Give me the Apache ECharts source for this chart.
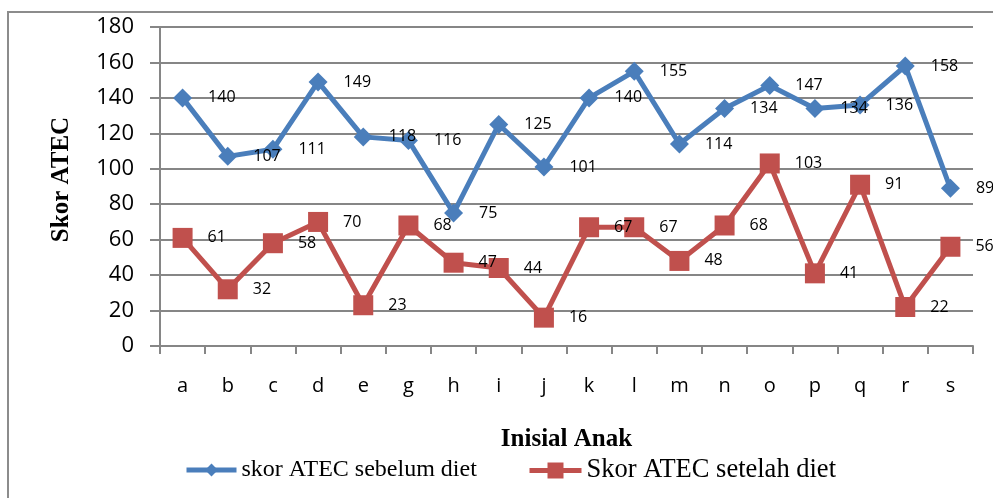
<!DOCTYPE html>
<html>
<head>
<meta charset="utf-8">
<script src="https://cdn.jsdelivr.net/npm/echarts@6/dist/echarts.min.js"></script>
<style>
html,body{margin:0;padding:0;background:#fff;}
#chart{width:993px;height:498px;}
</style>
</head>
<body>
<div id="chart"></div>
<script>
const categories = ['a','b','c','d','e','g','h','i','j','k','l','m','n','o','p','q','r','s'];
const sebelum = [140,107,111,149,118,116,75,125,101,140,155,114,134,147,134,136,158,89];
const setelah = [61,32,58,70,23,68,47,44,16,67,67,48,68,103,41,91,22,56];
const yTicks = {min:0, max:180, interval:20};
const seriesNames = ['skor ATEC sebelum diet','Skor ATEC setelah diet'];

const chart = echarts.init(document.getElementById('chart'), null, {renderer:'canvas'});
const labelFont = {fontFamily:'Open Sans', fontSize:16, color:'#000'};
chart.setOption({
  animation:false,
  backgroundColor:'#fff',
  graphic:[{type:'rect', shape:{x:8,y:12,width:1000,height:500}, style:{fill:'none', stroke:'#8c8c8c', lineWidth:2}, silent:true}],
  grid:{left:160, right:20, top:27, bottom:152, containLabel:false},
  legend:[
    {data:[seriesNames[0]], left:179, top:453, itemWidth:50, itemHeight:16, itemGap:0,
     lineStyle:{width:5}, 
     textStyle:{fontFamily:'Liberation Serif', fontSize:24, color:'#000'}},
    {data:[seriesNames[1]], left:522, top:452, itemWidth:52, itemHeight:20, itemGap:0,
     lineStyle:{width:5},
     textStyle:{fontFamily:'Liberation Serif', fontSize:26.5, color:'#000'}}
  ],
  xAxis:{
    type:'category', data:categories, boundaryGap:true,
    name:'Inisial Anak', nameLocation:'middle', nameGap:81,
    nameTextStyle:{fontFamily:'Liberation Serif', fontWeight:'bold', fontSize:25, color:'#000'},
    axisLine:{lineStyle:{color:'#868686', width:2}},
    axisTick:{show:true, alignWithLabel:false, length:8, lineStyle:{color:'#868686', width:2}},
    axisLabel:{fontFamily:'Open Sans', fontSize:20, color:'#000', margin:30},
    splitLine:{show:false}
  },
  yAxis:{
    type:'value', min:yTicks.min, max:yTicks.max, interval:yTicks.interval,
    name:'Skor ATEC', nameLocation:'middle', nameGap:86, nameRotate:90,
    nameTextStyle:{fontFamily:'Liberation Serif', fontWeight:'bold', fontSize:25, color:'#000', padding:[0,0,0,14]},
    axisLine:{show:true, lineStyle:{color:'#868686', width:2}},
    axisTick:{show:true, length:10, lineStyle:{color:'#868686', width:2}},
    axisLabel:{fontFamily:'Open Sans', fontSize:22, color:'#000', margin:26},
    splitLine:{show:true, lineStyle:{color:'#868686', width:2}}
  },
  series:[
    {name:seriesNames[0], type:'line', data:sebelum, symbol:'diamond', symbolSize:19,
     lineStyle:{color:'#4A7EBB', width:5}, itemStyle:{color:'#4A7EBB'},
     label:{show:true, position:'right', distance:16, ...labelFont}},
    {name:seriesNames[1], type:'line', data:setelah, symbol:'rect', symbolSize:20,
     lineStyle:{color:'#C0504D', width:5}, itemStyle:{color:'#C0504D'},
     label:{show:true, position:'right', distance:15, ...labelFont}}
  ]
});
</script>
</body>
</html>
